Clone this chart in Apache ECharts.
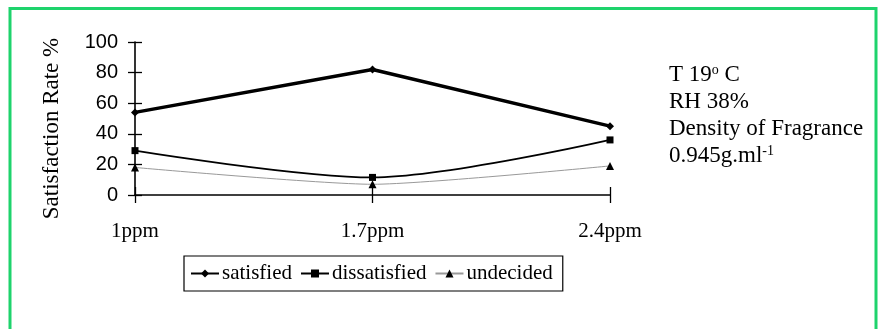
<!DOCTYPE html>
<html>
<head>
<meta charset="utf-8">
<script src="https://cdn.jsdelivr.net/npm/echarts@6/dist/echarts.min.js"></script>
<style>
    html, body { margin: 0; padding: 0; background: #fff; }
    #chart { width: 878px; height: 329px; }
</style>
</head>
<body>
<div id="chart"></div>
<script>
// data
const doses = ['1ppm', '1.7ppm', '2.4ppm'];
const satisfied = [54, 82, 45];
const dissatisfied = [29, 11.5, 36];
const undecided = [18, 7, 19];
const yTicks = [0, 20, 40, 60, 80, 100];

const serif = '"Liberation Serif", "Times New Roman", serif';
const sans = '"Liberation Sans", Arial, sans-serif';

const baseX = {
    type: 'category',
    position: 'bottom',
    data: doses,
    boundaryGap: false,
    axisLine: { show: false },
    axisLabel: { show: false },
    axisTick: { show: true, length: 8, lineStyle: { color: '#000', width: 1.3 } },
    splitLine: { show: false },
};
const baseY = {
    type: 'value',
    position: 'left',
    min: yTicks[0],
    max: yTicks[yTicks.length - 1],
    interval: 20,
    axisLine: { show: false },
    axisLabel: { show: false },
    axisTick: { show: true, length: 7, lineStyle: { color: '#000', width: 1.3 } },
    splitLine: { show: false },
};

const option = {
    animation: false,
    backgroundColor: '#fff',
    grid: { left: 135, right: 268, top: 42, bottom: 134 },
    legend: {
        left: 184,
        top: 256,
        orient: 'horizontal',
        padding: [7, 10, 7, 6],
        itemGap: 8,
        itemWidth: 28,
        itemHeight: 10,
        borderColor: '#000',
        borderWidth: 1.2,
        borderRadius: 0,
        textStyle: { fontFamily: serif, fontSize: 21, color: '#000', padding: [0, 0, 0, -2] },
        data: ['satisfied', 'dissatisfied', 'undecided'],
    },
    xAxis: [
        Object.assign({}, baseX, {
            axisLine: { show: true, lineStyle: { color: '#000', width: 1.6 } },
            axisLabel: { show: true, margin: 26, fontFamily: serif, fontSize: 21, color: '#000' },
        }),
        Object.assign({}, baseX, { axisTick: Object.assign({}, baseX.axisTick, { inside: true }) }),
    ],
    yAxis: [
        Object.assign({}, baseY, {
            axisLine: { show: true, lineStyle: { color: '#000', width: 1.6 } },
            axisLabel: { show: true, margin: 17, fontFamily: sans, fontSize: 20, color: '#000' },
            name: 'Satisfaction Rate %',
            nameLocation: 'middle',
            nameGap: 72,
            nameTextStyle: { fontFamily: serif, fontSize: 23, color: '#000', padding: [0, 20, 0, 0] },
        }),
        Object.assign({}, baseY, { axisTick: Object.assign({}, baseY.axisTick, { inside: true }) }),
    ],
    series: [
        {
            name: 'satisfied',
            type: 'line',
            data: satisfied,
            symbol: 'diamond',
            symbolSize: 8,
            itemStyle: { color: '#000' },
            lineStyle: { color: '#000', width: 3.5 },
            z: 4,
        },
        {
            name: 'dissatisfied',
            type: 'line',
            data: dissatisfied,
            smooth: 0.3,
            symbol: 'rect',
            symbolSize: 7,
            itemStyle: { color: '#000' },
            lineStyle: { color: '#000', width: 1.8 },
            z: 3,
        },
        {
            name: 'undecided',
            type: 'line',
            data: undecided,
            smooth: 0.2,
            symbol: 'triangle',
            symbolSize: 8,
            itemStyle: { color: '#000' },
            lineStyle: { color: '#999', width: 1 },
            z: 2,
        },
    ],
    graphic: [
        {
            type: 'rect',
            shape: { x: 10, y: 8.5, width: 866, height: 340 },
            style: { fill: 'none', stroke: '#1ed36c', lineWidth: 3 },
            silent: true,
        },
        {
            type: 'text', left: 669, top: 63,
            style: {
                text: '{a|T 19}{s|o}{a| C}',
                rich: { a: { fontFamily: serif, fontSize: 23, fill: '#000' }, s: { fontFamily: serif, fontSize: 14, fill: '#000', verticalAlign: 'top', padding: [0, 0, 10, 0] } },
            },
        },
        {
            type: 'text', left: 669, top: 90,
            style: { text: 'RH 38%', font: '23px ' + serif, fill: '#000' },
        },
        {
            type: 'text', left: 669, top: 117,
            style: { text: 'Density of Fragrance', font: '23px ' + serif, fill: '#000' },
        },
        {
            type: 'text', left: 669, top: 144,
            style: {
                text: '{a|0.945g.ml}{s|-1}',
                rich: { a: { fontFamily: serif, fontSize: 23, fill: '#000' }, s: { fontFamily: serif, fontSize: 14, fill: '#000', verticalAlign: 'top', padding: [0, 0, 10, 0] } },
            },
        },
    ],
};

const myChart = echarts.init(document.getElementById('chart'));
myChart.setOption(option);
</script>
</body>
</html>
